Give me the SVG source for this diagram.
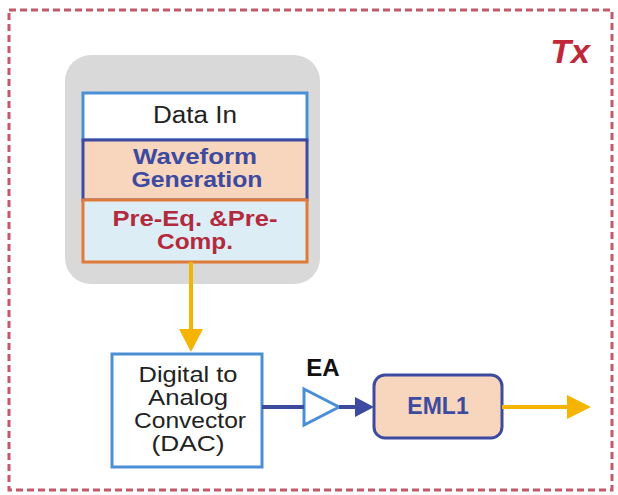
<svg xmlns="http://www.w3.org/2000/svg" width="618" height="495" viewBox="0 0 618 495">
<style>
text{font-family:"Liberation Sans",Arial,sans-serif;text-anchor:middle}
.bold{font-weight:bold}
.yl{stroke:#f4b400;stroke-width:4;fill:none}
.bl{stroke:#3c4aa0;stroke-width:4;fill:none}
</style>
<rect width="618" height="495" fill="#fff"/>
<g id="tx-frame">
<rect x="9" y="10" width="603" height="480" fill="none" stroke="#c25a6a" stroke-width="3" stroke-dasharray="7,4"/>
<text x="570" y="63" font-size="34" font-weight="bold" font-style="italic" fill="#c0283a">Tx</text>
</g>
<g id="dsp-block">
<rect x="65" y="55" width="255" height="229" rx="26" fill="#d9d9d9"/>
</g>
<g id="data-in">
<rect x="83" y="93" width="224" height="47" fill="#fff" stroke="#4a8fd6" stroke-width="3"/>
<text x="195" y="123" font-size="23" fill="#222" textLength="84" lengthAdjust="spacingAndGlyphs">Data In</text>
</g>
<g id="waveform-gen">
<rect x="83" y="140" width="224" height="60" fill="#f8d5bd" stroke="#3c4aa0" stroke-width="3"/>
<text class="bold" x="195" y="164" font-size="22" fill="#3c4aa0" textLength="124" lengthAdjust="spacingAndGlyphs">Waveform</text>
<text class="bold" x="197" y="187" font-size="22" fill="#3c4aa0" textLength="131" lengthAdjust="spacingAndGlyphs">Generation</text>
</g>
<g id="pre-eq">
<rect x="83" y="200" width="224" height="62" fill="#dcedf6" stroke="#e07a38" stroke-width="3"/>
<text class="bold" x="195" y="226" font-size="22" fill="#b32a3c" textLength="165" lengthAdjust="spacingAndGlyphs">Pre-Eq. &amp;Pre-</text>
<text class="bold" x="195" y="249" font-size="22" fill="#b32a3c" textLength="76" lengthAdjust="spacingAndGlyphs">Comp.</text>
</g>
<g id="dac">
<rect x="112" y="354" width="150" height="113" fill="#fff" stroke="#4a8fd6" stroke-width="3"/>
<text x="188" y="382" font-size="22" fill="#222" textLength="99" lengthAdjust="spacingAndGlyphs">Digital to</text>
<text x="188" y="405" font-size="22" fill="#222" textLength="80" lengthAdjust="spacingAndGlyphs">Analog</text>
<text x="190" y="428" font-size="22" fill="#222" textLength="112" lengthAdjust="spacingAndGlyphs">Convector</text>
<text x="188" y="451" font-size="22" fill="#222" textLength="73" lengthAdjust="spacingAndGlyphs">(DAC)</text>
</g>
<g id="ea">
<polygon points="304,389 339,407 304,425" fill="#fff" stroke="#4a8fd6" stroke-width="3"/>
<text class="bold" x="323" y="376" font-size="24" fill="#111">EA</text>
</g>
<g id="eml1">
<rect x="374" y="375" width="128" height="63" rx="11" fill="#f8d5bd" stroke="#3c4aa0" stroke-width="3"/>
<text class="bold" x="438" y="414" font-size="23" fill="#3c4aa0">EML1</text>
</g>
<g id="connectors">
<line class="yl" x1="191" y1="262" x2="191" y2="330"/>
<polygon points="179,329 203,329 191,352" fill="#f4b400"/>
<line class="bl" x1="262" y1="407" x2="304" y2="407"/>
<line class="bl" x1="339" y1="407" x2="358" y2="407"/>
<polygon points="355,397 374,407 355,417" fill="#3c4aa0"/>
<line class="yl" x1="502" y1="407" x2="570" y2="407"/>
<polygon points="567,395 591,407 567,419" fill="#f4b400"/>
</g>
</svg>
